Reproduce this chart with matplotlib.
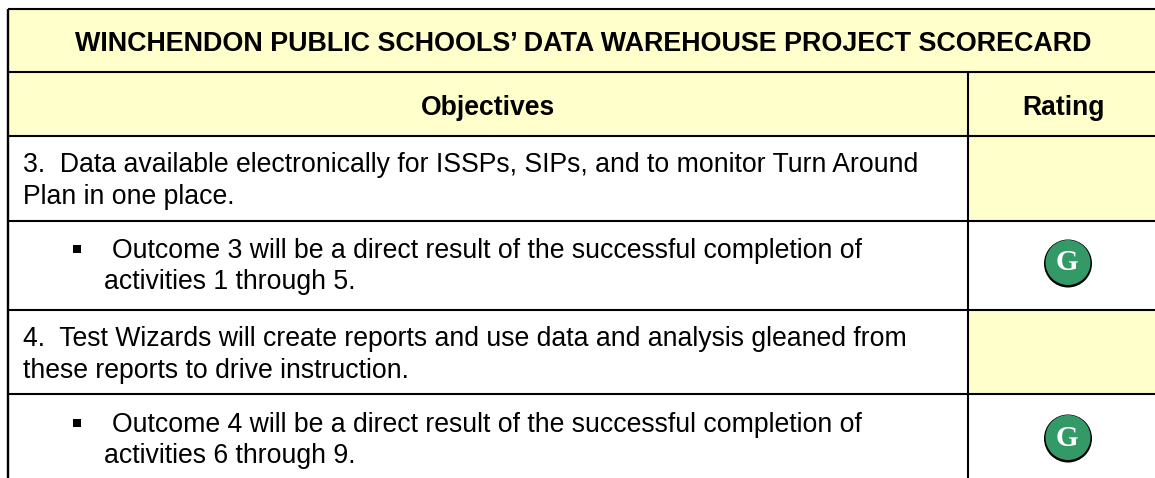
import matplotlib
matplotlib.use("Agg")
import matplotlib.pyplot as plt
from matplotlib.patches import Circle, Rectangle

title = "WINCHENDON PUBLIC SCHOOLS\u2019 DATA WAREHOUSE PROJECT SCORECARD"
col_headers = ["Objectives", "Rating"]
objectives = [
    "3.  Data available electronically for ISSPs, SIPs, and to monitor Turn Around\nPlan in one place.",
    "Outcome 3 will be a direct result of the successful completion of\nactivities 1 through 5.",
    "4.  Test Wizards will create reports and use data and analysis gleaned from\nthese reports to drive instruction.",
    "Outcome 4 will be a direct result of the successful completion of\nactivities 6 through 9.",
]
is_bullet = [False, True, False, True]
ratings = ["", "G", "", "G"]

YELLOW = "#ffffcc"
GREEN = "#339966"
W, H = 1155, 478
LEFT, SPLIT = 8, 968
HLINES = [9, 72, 136, 221, 310, 394]
BASELINES = [(172, 204), (258, 289), (346, 378), (432, 463)]
BADGE_Y = [None, 263, None, 438]

plt.rcParams["font.family"] = ["Liberation Sans", "DejaVu Sans"]

fig = plt.figure(figsize=(W / 100, H / 100), dpi=100)
ax = fig.add_axes([0, 0, 1, 1])
ax.set_xlim(0, W)
ax.set_ylim(H, 0)
ax.axis("off")

# header bands
ax.add_patch(Rectangle((LEFT, HLINES[0]), W - LEFT, HLINES[2] - HLINES[0], fc=YELLOW, ec="none"))

ax.text(583.5, 51, title, ha="center", va="baseline", fontsize=19.37, fontweight="bold")
ax.text(488, 115, col_headers[0], ha="center", va="baseline", fontsize=19.1, fontweight="bold")
ax.text(1064, 115, col_headers[1], ha="center", va="baseline", fontsize=19.1, fontweight="bold")

# body rows
for i, (txt, bullet, rating) in enumerate(zip(objectives, is_bullet, ratings)):
    top, bottom = HLINES[i + 2], (HLINES + [H])[i + 3]
    first, second = txt.split("\n")
    y1, y2 = BASELINES[i]
    if bullet:
        ax.plot([77], [y1 - 9], marker="s", ms=5.6, mew=0, color="black", ls="none")
        ax.text(112, y1, first, ha="left", va="baseline", fontsize=19.2)
        ax.text(104, y2, second, ha="left", va="baseline", fontsize=19.2)
    else:
        ax.text(23, y1, first, ha="left", va="baseline", fontsize=19.2)
        ax.text(23, y2, second, ha="left", va="baseline", fontsize=19.2)
    if rating:
        cy = BADGE_Y[i]
        ax.add_patch(Circle((1068, cy + 0.5), 24, fc="black", ec="none"))
        ax.add_patch(Circle((1068, cy - 0.5), 22.5, fc=GREEN, ec="none"))
        ax.text(1067, cy, rating, ha="center", va="center", fontsize=21, color="white",
                family="Liberation Serif", fontweight="bold")
    else:
        ax.add_patch(Rectangle((SPLIT, top), W - SPLIT, bottom - top, fc=YELLOW, ec="none"))

# grid lines
for y in HLINES:
    ax.plot([LEFT, W], [y, y], color="black", lw=1.5, solid_capstyle="butt")
ax.plot([LEFT, LEFT], [HLINES[0], H], color="black", lw=1.7, solid_capstyle="butt")
ax.plot([SPLIT, SPLIT], [HLINES[1], H], color="black", lw=1.5, solid_capstyle="butt")

fig.savefig("out.png", dpi=100)
